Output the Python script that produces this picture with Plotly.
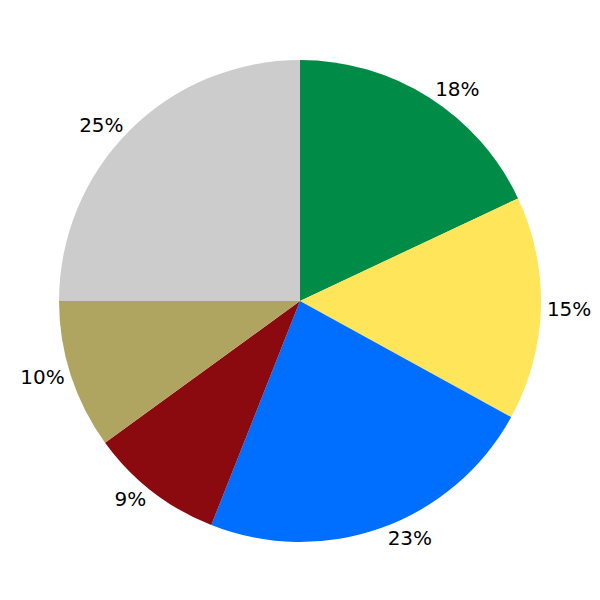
import plotly.graph_objects as go

labels = ["A", "B", "C", "D", "E", "F"]
values = [18, 15, 23, 9, 10, 25]
colors = ["#008C46", "#FFE55A", "#006EFF", "#8A0A10", "#B0A560", "#CCCCCC"]

fig = go.Figure(go.Pie(
    labels=labels,
    values=values,
    sort=False,
    direction="clockwise",
    rotation=0,
    marker=dict(colors=colors, line=dict(width=0)),
    textinfo="percent",
    texttemplate="%{percent:.0%}",
    textposition="outside",
    textfont=dict(family="DejaVu Sans", size=20, color="black"),
    showlegend=False,
    domain=dict(x=[0, 1], y=[0, 1]),
))
fig.update_layout(
    width=600, height=600,
    margin=dict(l=51, r=67, t=52, b=66),
    paper_bgcolor="white",
    plot_bgcolor="white",
)
fig.write_html("out.html")
